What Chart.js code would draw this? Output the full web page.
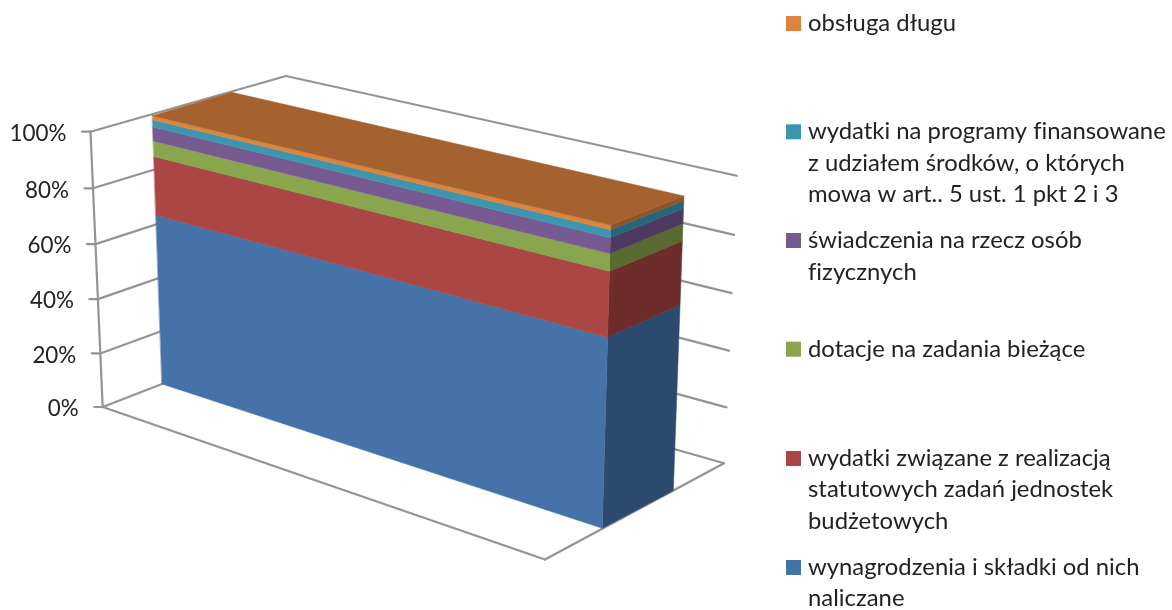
<!DOCTYPE html>
<html>
<head>
<meta charset="utf-8">
<script src="https://cdn.jsdelivr.net/npm/chart.js@4"></script>
<style>
html,body{margin:0;padding:0;background:#fff;overflow:hidden}
#wrap{width:1172px;height:610px;position:relative}
</style>
</head>
<body>
<div id="wrap"><canvas id="c" width="1172" height="610"></canvas></div>
<script>
const categories = [''];
const seriesNames = [
  'wynagrodzenia i składki od nich naliczane',
  'wydatki związane z realizacją statutowych zadań jednostek budżetowych',
  'dotacje na zadania bieżące',
  'świadczenia na rzecz osób fizycznych',
  'wydatki na programy finansowane z udziałem środków, o których mowa w art.. 5 ust. 1 pkt 2 i 3',
  'obsługa długu'
];
const wynagrodzenia = [63.8];
const wydatkiStatutowe = [21.4];
const dotacje = [5.7];
const swiadczenia = [5.0];
const programy = [2.6];
const obslugaDlugu = [1.5];
const seriesValues = [wynagrodzenia, wydatkiStatutowe, dotacje, swiadczenia, programy, obslugaDlugu];
const frontColors = ['#4572A7','#AA4643','#89A54E','#775A91','#3D96AE','#DB843D'];
const sideColors  = ['#2C4A6E','#6E2C2A','#59692F','#4D3A60','#27667A','#8F5426'];
const topColor = '#A5622E';
const legendLines = [
  ['wynagrodzenia i składki od nich','naliczane'],
  ['wydatki związane z realizacją','statutowych zadań jednostek','budżetowych'],
  ['dotacje na zadania bieżące'],
  ['świadczenia na rzecz osób','fizycznych'],
  ['wydatki na programy finansowane','z udziałem środków, o których','mowa w art.. 5 ust. 1 pkt 2 i 3'],
  ['obsługa długu']
];
const legendBaselines = [
  [575,605.7],
  [466,497,529],
  [356.7],
  [248,279.5],
  [139.3,170.7,202.3],
  [31]
];

// 3D projection of the box: every edge is [point at 0%, point at 100%]
const EDGE = {
  axis:  [[102.7,407],[90.5,131.7]],
  corner:[[283,337],[286,76]],
  right: [[724,463.3],[736.7,175.7]],
  FL: [[162,384],[152.3,115.7]],
  FR: [[602.3,528.3],[610.7,225]],
  BR: [[673.3,490.7],[684,196]],
  BL: [[241,360],[231.7,92.3]]
};
const FLOOR_FRONT = [545,559.5];
const K = 0.035;
const FONT = '23.85px Lato, Carlito, "Open Sans", sans-serif';
const TICK_FONT = '22.4px Lato, Carlito, "Open Sans", sans-serif';
const TEXT = '#222222';
const LINE = '#949494';

function persp(f){ return f/(1+K*(1-f)); }
function at(edge,f){
  const p = persp(f), a = edge[0], b = edge[1];
  return [a[0]+(b[0]-a[0])*p, a[1]+(b[1]-a[1])*p];
}
function poly(ctx,pts,color){
  ctx.beginPath();
  pts.forEach((p,i)=> i?ctx.lineTo(p[0],p[1]):ctx.moveTo(p[0],p[1]));
  ctx.closePath();
  ctx.fillStyle=color; ctx.strokeStyle=color; ctx.lineWidth=0.5;
  ctx.fill(); ctx.stroke();
}
function seg(ctx,a,b){ ctx.beginPath(); ctx.moveTo(a[0],a[1]); ctx.lineTo(b[0],b[1]); ctx.stroke(); }

const box3d = {
  id:'box3d',
  beforeDatasetsDraw(chart){
    const ctx = chart.ctx, y = chart.scales.y;
    const frac = px => (y.bottom-px)/(y.bottom-y.top);
    ctx.save();
    ctx.letterSpacing='0.01px';
    // walls, gridlines and axis come from the scale's ticks
    ctx.strokeStyle=LINE; ctx.lineWidth=2.2; ctx.lineCap='round';
    y.ticks.forEach((t,i)=>{
      const f = frac(y.getPixelForTick(i));
      const a = at(EDGE.axis,f), c = at(EDGE.corner,f), r = at(EDGE.right,f);
      seg(ctx,[a[0]-8.5,a[1]],a);
      seg(ctx,a,c);
      seg(ctx,c,r);
      ctx.fillStyle=TEXT; ctx.font=TICK_FONT; ctx.textAlign='right'; ctx.textBaseline='middle';
      ctx.fillText(t.label,a[0]-24,a[1]+2);
    });
    seg(ctx,at(EDGE.axis,0),at(EDGE.axis,1));
    seg(ctx,at(EDGE.axis,0),FLOOR_FRONT);
    seg(ctx,FLOOR_FRONT,at(EDGE.right,0));
    // stacked bar, from the bar elements' own pixels
    let topF = 0;
    chart.data.datasets.forEach((ds,i)=>{
      const bar = chart.getDatasetMeta(i).data[0];
      const f0 = frac(bar.base), f1 = frac(bar.y);
      topF = Math.max(topF,f1);
      poly(ctx,[at(EDGE.FR,f0),at(EDGE.BR,f0),at(EDGE.BR,f1),at(EDGE.FR,f1)],sideColors[i]);
      poly(ctx,[at(EDGE.FL,f0),at(EDGE.FR,f0),at(EDGE.FR,f1),at(EDGE.FL,f1)],frontColors[i]);
    });
    poly(ctx,[at(EDGE.FL,topF),at(EDGE.FR,topF),at(EDGE.BR,topF),at(EDGE.BL,topF)],topColor);
    // legend
    ctx.font=FONT; ctx.textAlign='left'; ctx.textBaseline='alphabetic';
    legendLines.forEach((lines,i)=>{
      const b = legendBaselines[i];
      ctx.fillStyle=frontColors[i];
      ctx.fillRect(786,b[0]-15,15,15);
      ctx.fillStyle=TEXT;
      lines.forEach((s,j)=>ctx.fillText(s,808,b[j]));
    });
    ctx.restore();
    return false;
  }
};

new Chart(document.getElementById('c'),{
  type:'bar',
  data:{
    labels:categories,
    datasets:seriesValues.map((v,i)=>({label:seriesNames[i],data:v,backgroundColor:frontColors[i]}))
  },
  options:{
    responsive:false,
    animation:false,
    layout:{padding:{left:100,right:440,top:132,bottom:203}},
    plugins:{legend:{display:false},tooltip:{enabled:false},title:{display:false}},
    scales:{
      x:{stacked:true,display:false},
      y:{stacked:true,min:0,max:100,display:true,
         border:{display:false},grid:{display:false},
         ticks:{display:false,stepSize:20,callback:v=>v+'%'}}
    }
  },
  plugins:[box3d]
});
</script>
</body>
</html>
